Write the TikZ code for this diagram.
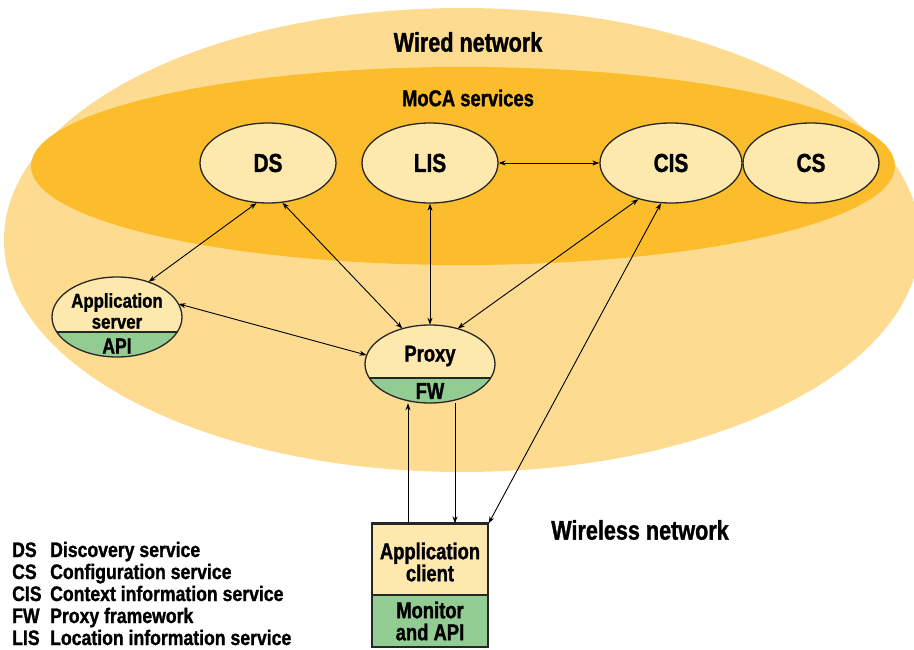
\documentclass[tikz,border=0pt]{standalone}
\usepackage{fontspec}
\setmainfont{Liberation Sans}[FakeStretch=0.8]
\newfontfamily\heavyfont{Liberation Sans}[FakeStretch=0.8,FakeBold=1.2]
\newfontfamily\legfont{Liberation Sans}[FakeStretch=0.84,FakeBold=1.2]
\newfontfamily\asfont{Liberation Sans}[FakeStretch=0.84,FakeBold=1.2]
\usetikzlibrary{arrows.meta,shapes.geometric}
\definecolor{outerc}{HTML}{FDDC92}
\definecolor{innerc}{HTML}{FBBD2C}
\definecolor{nodec}{HTML}{FDE8AE}
\definecolor{greenc}{HTML}{93CC93}
\begin{document}
\begin{tikzpicture}[x=1pt,y=-1pt,
  svc/.style={ellipse,draw=black!85,line width=1.3pt,fill=nodec,minimum width=136pt,minimum height=80pt,inner sep=0pt,font=\heavyfont\bfseries\fontsize{26}{26}\selectfont},
  lbl/.style={font=\heavyfont\bfseries\fontsize{27}{27}\selectfont},
  small/.style={font=\heavyfont\bfseries\fontsize{23}{20}\selectfont,align=center},
  leg/.style={font=\legfont\bfseries\fontsize{21}{21}\selectfont,anchor=base west,inner sep=0pt},
  conn/.style={line width=0.9pt,{Stealth[length=7pt,width=5pt]}-{Stealth[length=7pt,width=5pt]}},
  one/.style={line width=0.9pt,-{Stealth[length=7pt,width=5pt]}}]
\useasboundingbox (0,0) rectangle (914,650);
\fill[white] (0,0) rectangle (914,650);
\begin{scope}
\clip (0,0) rectangle (914,650);
\fill[outerc] (462,240) ellipse [x radius=458, y radius=232];
\fill[innerc] (463,166) ellipse [x radius=432, y radius=99];
\end{scope}
\node[lbl] (wired) at (468,42) {Wired network};
\node[lbl,font=\heavyfont\bfseries\fontsize{23}{23}\selectfont] (moca) at (468,98) {MoCA services};
\node[svc] (ds) at (268,163) {DS};
\node[svc] (lis) at (430,163) {LIS};
\node[svc,minimum width=142pt] (cis) at (671,163) {CIS};
\node[svc] (cs) at (811,163) {CS};
% application server
\node[ellipse,minimum width=130pt,minimum height=80pt,inner sep=0pt] (as) at (117,317) {};
\begin{scope}
\clip (117,317) ellipse [x radius=65, y radius=40];
\fill[nodec] (52,277) rectangle (182,332);
\fill[greenc] (52,332) rectangle (182,357);
\draw[line width=1.3pt,black!85] (52,332) -- (182,332);
\end{scope}
\draw[line width=1.3pt,black!85] (as.center) ellipse [x radius=65, y radius=40];
\node[align=center,font=\asfont\bfseries\fontsize{20}{21}\selectfont,inner sep=0pt] (astext) at (117,311) {Application\\server};
\node[small,font=\heavyfont\bfseries\fontsize{22}{22}\selectfont,inner sep=0pt] (api) at (117,346) {API};
% proxy
\node[ellipse,minimum width=130pt,minimum height=78pt,inner sep=0pt] (px) at (430,364) {};
\begin{scope}
\clip (430,364) ellipse [x radius=65, y radius=39];
\fill[nodec] (365,325) rectangle (495,378);
\fill[greenc] (365,378) rectangle (495,403);
\draw[line width=1.3pt,black!85] (365,378) -- (495,378);
\end{scope}
\draw[line width=1.3pt,black!85] (px.center) ellipse [x radius=65, y radius=39];
\node[small] (proxytext) at (430,356) {Proxy};
\node[small] (fw) at (430,391) {FW};
% client
\node[draw=black!85,line width=1.3pt,fill=nodec,minimum width=116pt,minimum height=123pt,inner sep=0pt] (cl) at (430,585.5) {};
\fill[greenc] (373,595) rectangle (487,646);
\draw[line width=1.3pt,black!85] (cl.north west) rectangle (cl.south east);
\draw[line width=1.3pt,black!85] (cl.west |- 0,595) coordinate (divl) -- (cl.east |- 0,595) coordinate (divr);
\draw[line width=2pt,black!85] (cl.north west) -- (cl.north east);
\node[small,font=\heavyfont\bfseries\fontsize{23}{22}\selectfont] (cltext) at (430,562) {Application\\client};
\node[small,font=\heavyfont\bfseries\fontsize{23}{22}\selectfont] (mon) at (430,621) {Monitor\\and API};
\node[lbl] (wireless) at (640,530) {Wireless network};
% legend
\node[leg] (l1) at (12,557) {DS};
\node[leg] (l2) at (12,579) {CS};
\node[leg] (l3) at (12,601) {CIS};
\node[leg] (l4) at (12,623) {FW};
\node[leg] (l5) at (12,645) {LIS};
\node[leg] (d1) at (50,557) {Discovery service};
\node[leg] (d2) at (50,579) {Configuration service};
\node[leg] (d3) at (50,601) {Context information service};
\node[leg] (d4) at (50,623) {Proxy framework};
\node[leg] (d5) at (50,645) {Location information service};
% connectors
\draw[conn] (ds.254) -- (as.48);
\draw[conn] (ds.290) -- (px.128);
\draw[conn] (lis.south) -- (px.north);
\draw[conn] (lis.east) -- (cis.west);
\draw[conn] (cis.228) -- (px.52);
\draw[conn] (cis.256) -- (cl.north east);
\draw[conn] (as.12) -- (px.172);
\draw[one] (cl.north -| 408,0) -- (px.south -| 408,0);
\draw[one] (px.south -| 455,0) -- (cl.north -| 455,0);
\end{tikzpicture}
\end{document}
